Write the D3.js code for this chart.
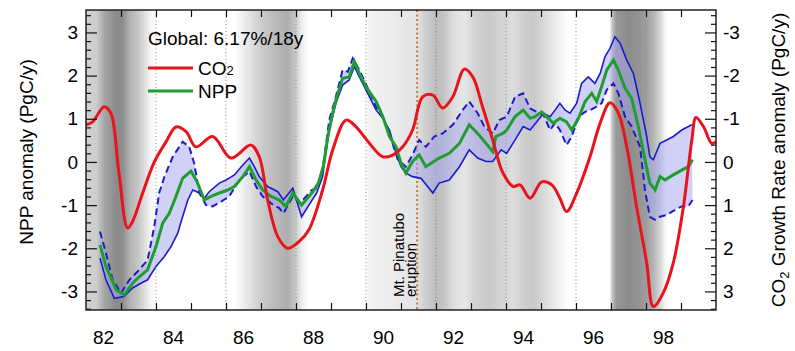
<!DOCTYPE html>
<html>
<head>
<meta charset="UTF-8">
<title>NPP and CO2 growth rate anomaly</title>
<style>
  body { margin: 0; padding: 0; background: #fff; }
  svg { display: block; }
  text { font-family: "Liberation Sans", Arial, Helvetica, sans-serif; fill: #000; }
</style>
<script src="https://d3js.org/d3.v7.min.js"></script>
</head>
<body>
<script>
// ---- data ----
// CO2 growth rate anomaly, PgC/y (right axis, inverted)
const co2Years = [1982.00,1982.19,1982.52,1982.71,1982.94,1983.19,1983.33,1983.62,1983.94,1984.29,
  1984.57,1984.86,1985.14,1985.62,1986.14,1986.71,1986.95,1987.19,1987.48,1987.76,
  1988.09,1988.37,1988.76,1989.05,1989.43,1989.71,1990.09,1990.48,1990.76,1991.05,
  1991.33,1991.62,1991.91,1992.19,1992.48,1992.81,1993.05,1993.33,1993.62,1993.91,
  1994.21,1994.40,1994.69,1995.02,1995.31,1995.54,1995.73,1996.02,1996.40,1996.69,
  1996.97,1997.21,1997.45,1997.73,1998.02,1998.21,1998.49,1998.78,1999.07,1999.31,
  1999.43,1999.64,1999.88,2000.00];
const co2Values = [-0.86,-0.93,-1.28,-1.13,0.25,1.53,1.38,0.72,0.02,-0.47,
  -0.81,-0.70,-0.35,-0.59,-0.09,-0.39,-0.12,0.88,1.73,2.00,
  1.84,1.57,0.65,-0.28,-0.97,-0.82,-0.44,-0.12,-0.16,-0.35,
  -0.74,-1.51,-1.55,-1.25,-1.51,-2.15,-1.97,-1.28,-0.51,0.25,
  0.57,0.53,0.84,0.46,0.53,0.84,1.15,0.72,-0.12,-0.90,
  -1.37,-1.13,-0.35,1.03,2.34,3.35,3.04,2.34,1.03,-0.51,
  -1.03,-0.82,-0.43,-0.47];

// NPP anomaly, PgC/y (green)
const nppYears = [1982.40,1982.57,1982.86,1983.09,1983.33,1983.52,1983.76,1984.00,1984.19,1984.38,
  1984.57,1984.76,1985.00,1985.19,1985.38,1985.57,1985.81,1986.05,1986.24,1986.48,
  1986.67,1986.86,1987.05,1987.29,1987.52,1987.71,1987.91,1988.16,1988.45,1988.64,
  1988.78,1988.91,1989.09,1989.33,1989.52,1989.67,1989.81,1990.00,1990.29,1990.48,
  1990.67,1990.86,1991.00,1991.14,1991.33,1991.52,1991.71,1991.86,1992.09,1992.38,
  1992.67,1992.95,1993.19,1993.43,1993.62,1993.71,1993.91,1994.02,1994.26,1994.49,
  1994.69,1994.83,1995.02,1995.21,1995.35,1995.54,1995.73,1995.88,1996.07,1996.26,
  1996.45,1996.59,1996.73,1996.88,1997.07,1997.21,1997.40,1997.59,1997.78,1997.97,
  1998.11,1998.26,1998.40,1998.54,1998.78,1999.02,1999.21,1999.33];
const nppValues = [-1.92,-2.42,-2.96,-3.08,-2.81,-2.66,-2.50,-1.96,-1.42,-1.19,
  -0.80,-0.38,-0.21,-0.49,-0.88,-0.80,-0.72,-0.65,-0.57,-0.34,
  -0.11,-0.42,-0.65,-0.80,-0.88,-1.03,-0.72,-1.00,-0.72,-0.49,
  -0.10,0.59,1.28,1.94,1.97,2.32,2.05,1.74,1.40,1.05,
  0.59,0.35,-0.03,-0.26,0.01,0.16,-0.11,-0.03,0.09,0.20,
  0.43,0.86,0.66,0.43,0.24,0.59,0.66,0.74,1.05,1.20,
  1.01,1.05,1.16,1.01,0.90,1.01,0.93,0.74,1.01,1.40,
  1.59,1.40,1.74,2.13,2.36,2.13,1.71,1.47,0.82,0.05,
  -0.49,-0.65,-0.34,-0.42,-0.30,-0.19,-0.11,0.05];

// range bound drawn solid blue
const solidYears = [1982.40,1982.57,1982.81,1983.09,1983.33,1983.57,1983.76,1984.00,1984.24,1984.43,
  1984.62,1984.76,1984.91,1985.05,1985.24,1985.38,1985.52,1985.81,1986.00,1986.24,
  1986.48,1986.67,1986.81,1986.95,1987.19,1987.48,1987.64,1987.91,1988.16,1988.40,
  1988.59,1988.76,1988.95,1989.14,1989.33,1989.52,1989.67,1989.81,1990.00,1990.29,
  1990.48,1990.67,1990.86,1991.00,1991.14,1991.33,1991.57,1991.76,1991.91,1992.09,
  1992.38,1992.67,1992.95,1993.19,1993.43,1993.62,1993.86,1994.02,1994.26,1994.49,
  1994.69,1994.88,1995.07,1995.26,1995.40,1995.54,1995.69,1995.83,1996.02,1996.16,
  1996.35,1996.54,1996.69,1996.83,1996.97,1997.11,1997.26,1997.45,1997.64,1997.83,
  1998.02,1998.11,1998.21,1998.40,1998.59,1998.78,1999.02,1999.31];
const solidValues = [-2.23,-2.73,-3.16,-3.12,-2.92,-2.81,-2.73,-2.42,-2.19,-1.96,
  -1.65,-1.27,-0.88,-0.65,-0.72,-0.84,-0.69,-0.49,-0.42,-0.30,
  -0.07,0.09,-0.11,-0.34,-0.57,-0.69,-0.88,-0.61,-1.27,-0.96,
  -0.72,-0.34,0.74,1.36,1.78,1.90,2.21,1.97,1.67,1.20,
  1.01,0.74,0.20,-0.11,-0.26,-0.34,-0.38,-0.57,-0.72,-0.49,
  -0.42,-0.11,0.28,0.09,0.01,0.01,0.28,0.20,0.51,0.82,
  0.74,0.93,1.13,1.05,1.20,1.36,1.20,1.13,1.36,1.82,
  1.97,1.82,2.05,2.44,2.63,2.90,2.75,2.36,2.05,1.36,
  0.59,0.12,0.05,0.43,0.51,0.59,0.74,0.86];

// range bound drawn dashed blue
const dashYears = [1982.40,1982.57,1982.76,1983.00,1983.24,1983.52,1983.76,1983.95,1984.09,1984.24,
  1984.48,1984.76,1984.95,1985.09,1985.24,1985.43,1985.62,1985.86,1986.09,1986.38,
  1986.67,1986.86,1987.05,1987.29,1987.52,1987.64,1987.91,1988.11,1988.45,1988.59,
  1988.74,1988.95,1989.14,1989.33,1989.48,1989.62,1989.81,1990.05,1990.29,1990.52,
  1990.76,1990.91,1991.14,1991.33,1991.52,1991.71,1991.95,1992.19,1992.48,1992.76,
  1992.95,1993.19,1993.38,1993.62,1993.81,1994.02,1994.26,1994.49,1994.69,1994.88,
  1995.07,1995.26,1995.40,1995.54,1995.73,1995.88,1996.07,1996.26,1996.40,1996.59,
  1996.73,1996.88,1997.07,1997.21,1997.40,1997.59,1997.83,1997.97,1998.11,1998.26,
  1998.40,1998.59,1998.83,1999.02,1999.21,1999.33];
const dashValues = [-1.61,-2.11,-2.73,-3.04,-2.73,-2.50,-2.27,-1.50,-0.72,-0.34,
  0.12,0.47,0.35,-0.03,-0.72,-1.00,-1.03,-0.92,-0.80,-0.42,
  -0.22,-0.57,-0.80,-0.96,-1.07,-1.19,-0.80,-0.96,-0.65,-0.61,
  -0.30,0.97,1.51,2.13,2.09,2.40,2.13,1.71,1.28,0.97,
  0.43,0.05,-0.11,0.16,0.51,0.35,0.59,0.66,0.86,1.20,
  1.40,1.13,0.82,0.66,0.97,1.05,1.51,1.59,1.24,1.16,
  1.09,0.74,0.90,0.74,0.39,0.59,1.05,1.16,1.20,1.28,
  1.36,1.67,1.82,1.59,1.05,0.82,0.35,-0.65,-1.27,-1.34,
  -1.27,-1.23,-1.11,-1.03,-1.03,-0.88];

// background grey shading (0 = white, 1 = black)
const shadeYears = [1982.00,1982.30,1982.55,1982.85,1983.05,1983.25,1983.45,1983.65,1983.85,1984.00,
  1986.25,1986.55,1986.85,1987.20,1987.50,1987.75,1987.95,1988.15,1988.35,1990.00,
  1990.10,1990.70,1991.10,1991.40,1991.70,1992.00,1992.20,1992.50,1992.80,1993.10,
  1993.50,1993.90,1994.20,1994.50,1994.80,1995.00,1995.30,1995.60,1995.80,1996.95,
  1997.05,1997.15,1997.50,1997.80,1998.00,1998.20,1998.40,1998.55,1998.65,2000.00];
const shadeLevels = [0.18,0.20,0.36,0.45,0.45,0.30,0.24,0.14,0.04,0.00,
  0.00,0.08,0.16,0.24,0.28,0.32,0.24,0.08,0.00,0.00,
  0.05,0.07,0.10,0.10,0.19,0.26,0.24,0.13,0.10,0.17,
  0.21,0.17,0.13,0.19,0.21,0.17,0.10,0.04,0.00,0.00,
  0.26,0.40,0.45,0.42,0.38,0.30,0.17,0.03,0.00,0.00];

const yearTicks = [1983,1984,1985,1986,1987,1988,1989,1990,1991,1992,1993,1994,1995,1996,1997,1998,1999];
const labelYears = [1982,1984,1986,1988,1990,1992,1994,1996,1998];
const yearLabels = ["82","84","86","88","90","92","94","96","98"];
const dottedYears = [1984,1986,1988,1990,1992,1994,1996,1998];
const leftTicks = [-3,-2,-1,0,1,2,3];
const rightTicks = [-3,-2,-1,0,1,2,3];
const pinatuboYear = 1991.46;

// ---- layout ----
const width = 795, height = 351;
const plotL = 86, plotR = 716, plotT = 10, plotB = 310;

const svg = d3.select("body").append("svg")
    .attr("width", width)
    .attr("height", height);

const x = d3.scaleLinear().domain([1982, 2000]).range([plotL, plotR]);
const y = d3.scaleLinear().domain([-3.43, 3.52]).range([plotB, plotT]);
const yR = d3.scaleLinear().domain([3.43, -3.52]).range([plotB, plotT]);

// background gradient
const grad = svg.append("defs").append("linearGradient")
    .attr("id", "shade")
    .attr("gradientUnits", "userSpaceOnUse")
    .attr("x1", x(1982)).attr("x2", x(2000))
    .attr("y1", 0).attr("y2", 0);
const grey = d3.interpolateRgb("#ffffff", "#000000");
grad.selectAll("stop")
    .data(d3.zip(shadeYears, shadeLevels))
    .enter().append("stop")
    .attr("offset", d => (d[0] - 1982) / 18)
    .attr("stop-color", d => grey(d[1]));

svg.append("rect")
    .attr("x", plotL).attr("y", plotT)
    .attr("width", plotR - plotL).attr("height", plotB - plotT)
    .attr("fill", "url(#shade)");

// dotted year lines
svg.selectAll(".dotline")
    .data(dottedYears)
    .enter().append("line")
    .attr("x1", d => x(d)).attr("x2", d => x(d))
    .attr("y1", plotT).attr("y2", plotB)
    .attr("stroke", "#8a8a8a")
    .attr("stroke-width", 1)
    .attr("stroke-dasharray", "1,2.5");

// Pinatubo line
svg.append("line")
    .attr("x1", x(pinatuboYear)).attr("x2", x(pinatuboYear))
    .attr("y1", plotT).attr("y2", plotB)
    .attr("stroke", "#c87d3c")
    .attr("stroke-width", 2)
    .attr("stroke-dasharray", "2,2.5");

const solidPts = d3.zip(solidYears, solidValues);
const dashPts = d3.zip(dashYears, dashValues);
const nppPts = d3.zip(nppYears, nppValues);
const co2Pts = d3.zip(co2Years, co2Values);

const line = d3.line().x(d => x(d[0])).y(d => y(d[1]));

// shaded range between the two bounds
svg.append("path")
    .attr("d", line(solidPts.concat(dashPts.slice().reverse())) + "Z")
    .attr("fill", "#a4a4f2")
    .attr("fill-opacity", 0.5)
    .attr("stroke", "none");

svg.append("path")
    .attr("d", line(solidPts))
    .attr("fill", "none")
    .attr("stroke", "#1c1cc8")
    .attr("stroke-width", 1.6);

svg.append("path")
    .attr("d", line(dashPts))
    .attr("fill", "none")
    .attr("stroke", "#1c1cc8")
    .attr("stroke-width", 2)
    .attr("stroke-dasharray", "7,4");

svg.append("path")
    .attr("d", line(nppPts))
    .attr("fill", "none")
    .attr("stroke", "#1e9e2e")
    .attr("stroke-width", 3);

const co2Line = d3.line()
    .x(d => x(d[0]))
    .y(d => yR(d[1]))
    .curve(d3.curveCatmullRom);

svg.append("path")
    .attr("d", co2Line(co2Pts))
    .attr("fill", "none")
    .attr("stroke", "#e8141c")
    .attr("stroke-width", 3);

// ---- axes ----
const minorTicks = d3.range(-34, 35, 2).map(d => d / 10).filter(d => Math.abs(d % 1) > 0.01);

function styleAxis(g) {
    g.select(".domain").remove();
    g.selectAll("line").attr("stroke", "#111").attr("stroke-width", 1.2);
    g.selectAll("text").attr("font-size", 19).attr("font-family", '"Liberation Sans", Arial, sans-serif').attr("fill", "#000");
}

svg.append("g").attr("transform", `translate(${plotL},0)`)
    .call(d3.axisLeft(y).tickValues(minorTicks).tickSize(-5).tickFormat(""))
    .call(styleAxis);
svg.append("g").attr("transform", `translate(${plotL},0)`)
    .call(d3.axisLeft(y).tickValues(leftTicks).tickSize(-11).tickPadding(8).tickFormat(d => String(d)))
    .call(styleAxis);

svg.append("g").attr("transform", `translate(${plotR},0)`)
    .call(d3.axisRight(yR).tickValues(minorTicks).tickSize(-5).tickFormat(""))
    .call(styleAxis);
svg.append("g").attr("transform", `translate(${plotR},0)`)
    .call(d3.axisRight(yR).tickValues(rightTicks).tickSize(-11).tickPadding(7).tickFormat(d => String(d)))
    .call(styleAxis);

svg.append("g").attr("transform", `translate(0,${plotB})`)
    .call(d3.axisBottom(x).tickValues(yearTicks).tickSize(-7).tickFormat(""))
    .call(styleAxis);
svg.append("g").attr("transform", `translate(0,${plotT})`)
    .call(d3.axisTop(x).tickValues(yearTicks).tickSize(-7).tickFormat(""))
    .call(styleAxis);

svg.selectAll(".xlab")
    .data(d3.zip(labelYears, yearLabels))
    .enter().append("text")
    .attr("x", d => x(d[0] + 0.5))
    .attr("y", 344)
    .attr("text-anchor", "middle")
    .attr("font-size", 19)
    .text(d => d[1]);

// frame
svg.append("rect")
    .attr("x", plotL).attr("y", plotT)
    .attr("width", plotR - plotL).attr("height", plotB - plotT)
    .attr("fill", "none")
    .attr("stroke", "#222")
    .attr("stroke-width", 1.5);

// axis titles
svg.append("text")
    .attr("transform", "translate(33,152) rotate(-90)")
    .attr("text-anchor", "middle")
    .attr("font-size", 19)
    .text("NPP anomaly (PgC/y)");

const rt = svg.append("text")
    .attr("transform", "translate(785,160) rotate(-90)")
    .attr("text-anchor", "middle")
    .attr("font-size", 19);
rt.append("tspan").text("CO");
rt.append("tspan").attr("font-size", 13).attr("dy", 4).text("2");
rt.append("tspan").attr("dy", -4).text(" Growth Rate anomaly (PgC/y)");

// legend
svg.append("text")
    .attr("x", 148).attr("y", 45)
    .attr("font-size", 19)
    .text("Global: 6.17%/18y");

svg.append("line")
    .attr("x1", 148).attr("x2", 193).attr("y1", 68).attr("y2", 68)
    .attr("stroke", "#e8141c").attr("stroke-width", 3);
const lt = svg.append("text").attr("x", 198).attr("y", 75).attr("font-size", 19);
lt.append("tspan").text("CO");
lt.append("tspan").attr("font-size", 13).text("2");

svg.append("line")
    .attr("x1", 148).attr("x2", 193).attr("y1", 91).attr("y2", 91)
    .attr("stroke", "#1e9e2e").attr("stroke-width", 3);
svg.append("text").attr("x", 198).attr("y", 98).attr("font-size", 19).text("NPP");

// Pinatubo annotation
svg.append("text")
    .attr("transform", "translate(404,297) rotate(-90)")
    .attr("font-size", 15)
    .text("Mt. Pinatubo");
svg.append("text")
    .attr("transform", "translate(416,297) rotate(-90)")
    .attr("font-size", 15)
    .text("eruption");
</script>
</body>
</html>
